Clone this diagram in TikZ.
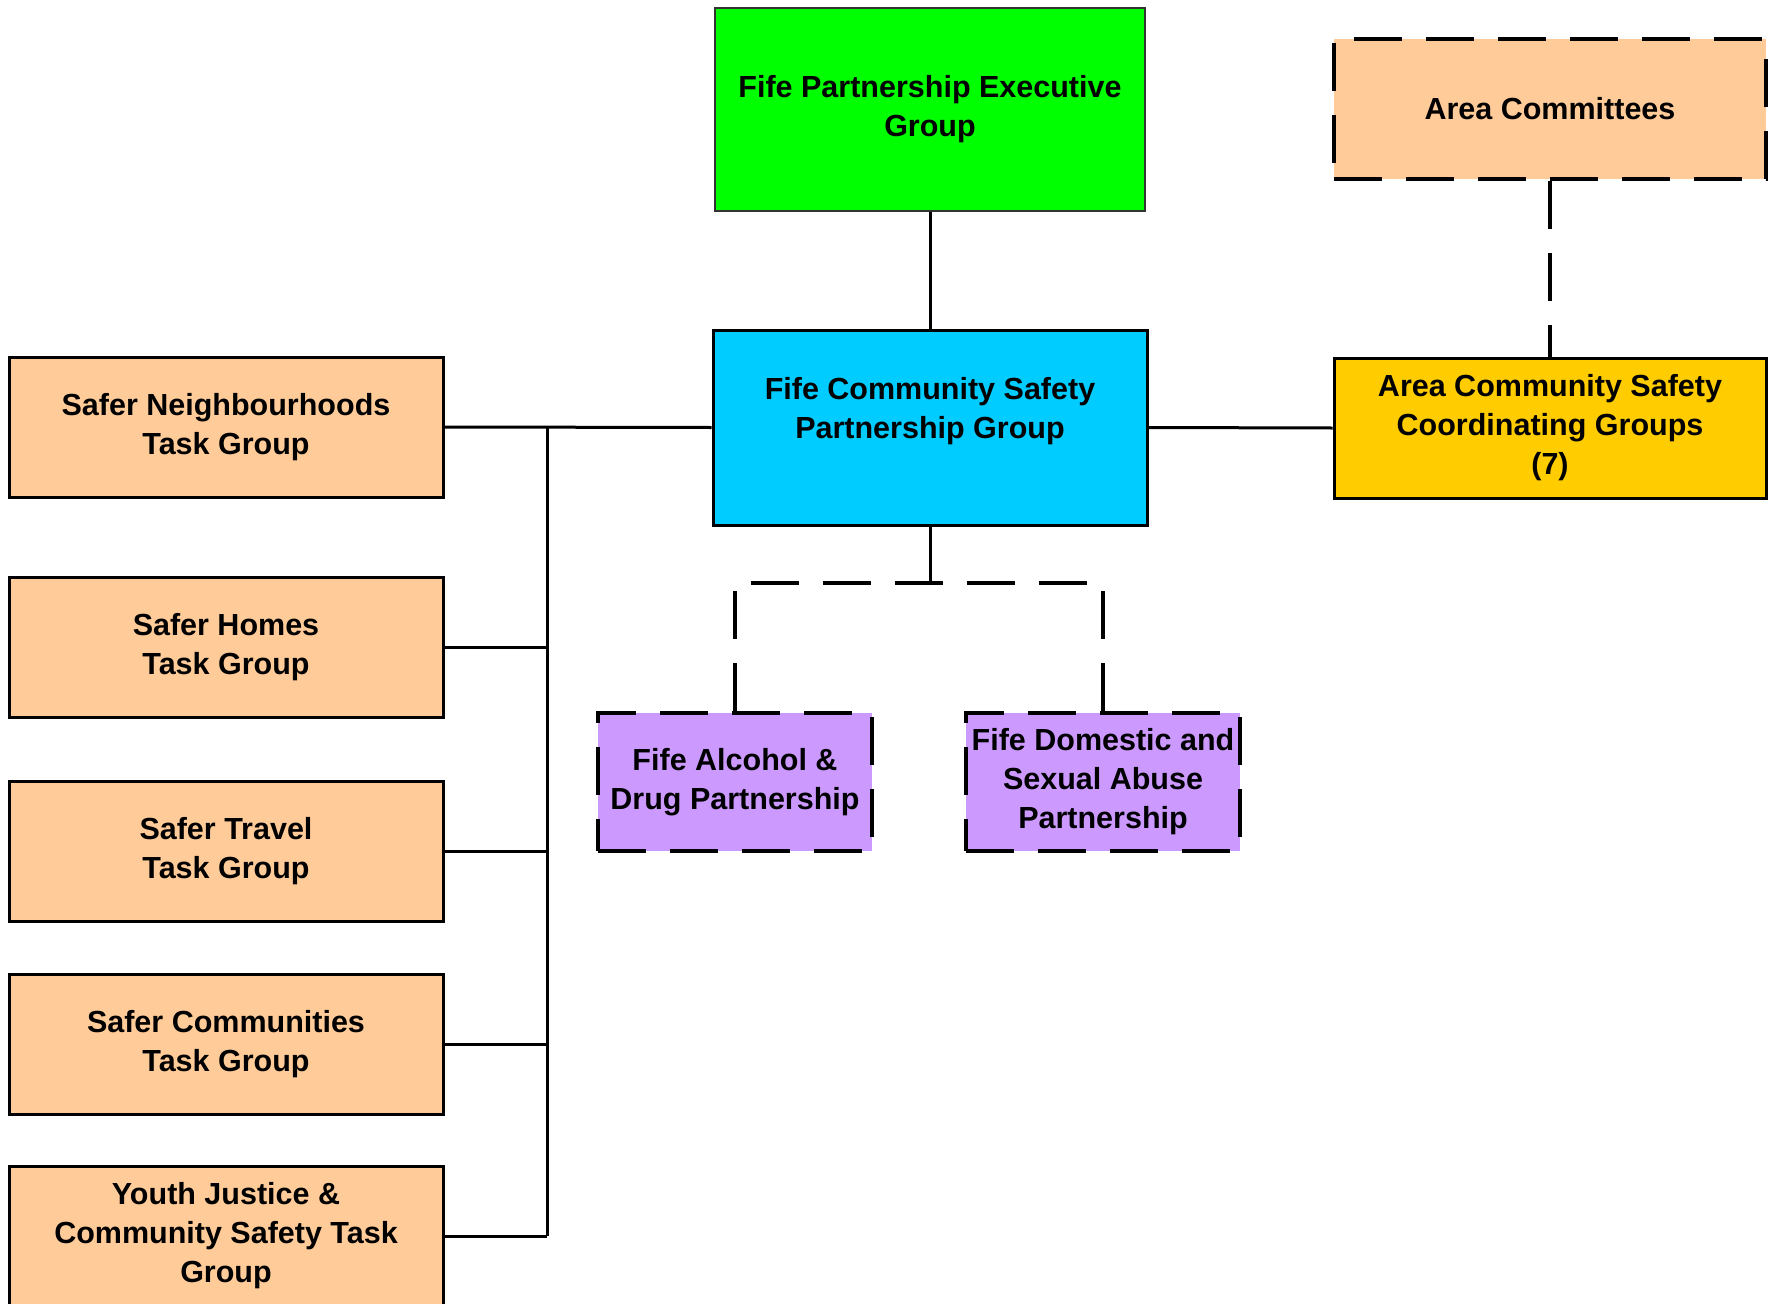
\documentclass[tikz,border=0pt]{standalone}
\usepackage{fontspec}
\setmainfont{Liberation Sans}
\definecolor{peach}{HTML}{FFCC99}
\definecolor{lilac}{HTML}{CC99FF}
\definecolor{gold}{HTML}{FFCC00}
\definecolor{sky}{HTML}{00CCFF}
\definecolor{lime}{HTML}{00FF00}
\begin{document}
\begin{tikzpicture}[x=1pt,y=-1pt,
  box/.style={draw=black, line width=3pt, minimum width=434pt, minimum height=140pt,
    inner sep=0pt, align=center, font=\bfseries\fontsize{30.5}{39}\selectfont},
  dbox/.style={box, line width=4pt, dash pattern=on 48pt off 24pt},
  conn/.style={line width=3pt},
  dconn/.style={line width=3.5pt, dash pattern=on 48pt off 24pt}]
\useasboundingbox (0,0) rectangle (1768,1303);
\clip (0,0) rectangle (1768,1303);

% top centre
\node[box, fill=lime, draw=black!80, line width=1.2pt, minimum width=430pt, minimum height=203pt] (exec) at (930,109.5) {Fife Partnership Executive\\Group};
\node[box, fill=sky, minimum height=195pt] (fcsp) at (930,427.5) {Fife Community Safety\\Partnership Group\\\mbox{}};

% right
\node[dbox, fill=peach, minimum width=432pt] (ac) at (1550,109) {Area Committees};
\node[box, fill=gold, minimum width=432pt] (acs) at (1550,428) {Area Community Safety\\Coordinating Groups\\(7)};

% left column
\node[box, fill=peach] (sn) at (226,427) {Safer Neighbourhoods\\Task Group};
\node[box, fill=peach] (sh) at (226,647) {Safer Homes\\Task Group};
\node[box, fill=peach] (st) at (226,851) {Safer Travel\\Task Group};
\node[box, fill=peach] (sc) at (226,1044) {Safer Communities\\Task Group};
\node[box, fill=peach] (yj) at (226,1236) {Youth Justice \&\\Community Safety Task\\Group};

% partnerships
\node[dbox, fill=lilac, minimum width=274pt, minimum height=138pt] (adp) at (735,782) {Fife Alcohol \&\\Drug Partnership};
\node[dbox, fill=lilac, minimum width=274pt, minimum height=138pt] (dsa) at (1103,782) {Fife Domestic and\\Sexual Abuse\\Partnership};

% connectors
\coordinate (busx) at (547,0);
\coordinate (split) at (930,583);
\draw[conn] (exec.south) -- (fcsp.north);
\draw[conn] (sn.east) -- (fcsp.west);
\draw[conn] (sn.east -| busx) -- (yj.east -| busx);
\foreach \n in {sh,st,sc,yj} \draw[conn] (\n.east) -- (\n.east -| busx);
\draw[conn] (fcsp.east) -- (acs.west);
\draw[dconn] (ac.south) -- (acs.north);
\draw[conn] (fcsp.south) -- (split);
\draw[dconn] (adp.north) |- (split) -| (dsa.north);
\end{tikzpicture}
\end{document}
